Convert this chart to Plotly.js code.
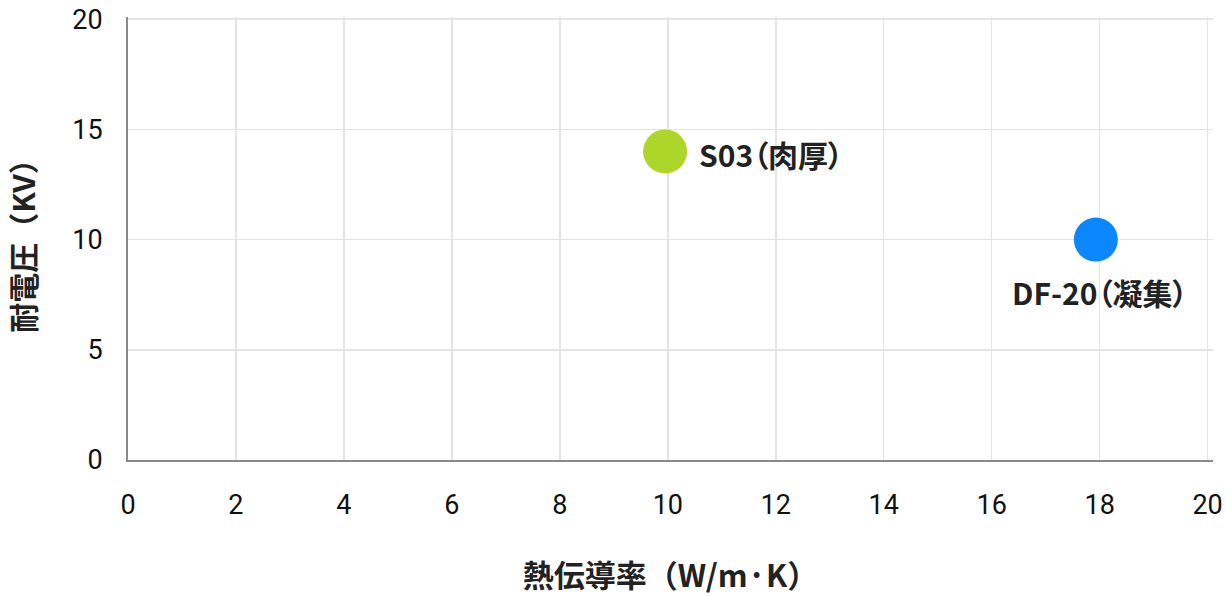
<!DOCTYPE html>
<html>
<head>
<meta charset="utf-8">
<script src="https://cdn.plot.ly/plotly-3.0.1.min.js"></script>
<style>
html,body{margin:0;padding:0;background:#fff;}
#chart{width:1226px;height:596px;}
.annotation-text{font-feature-settings:"palt" 1;}
</style>
</head>
<body>
<div id="chart"></div>
<script>
const names = ["S03（肉厚）", "DF-20（凝集）"];
const conductivity = [9.95, 17.93];
const voltage = [14, 10];
const colors = ["#acd62a", "#0a88fb"];
const xTicks = [0, 2, 4, 6, 8, 10, 12, 14, 16, 18, 20];
const yTicks = [0, 5, 10, 15, 20];
const xTitle = "熱伝導率（W/m·K）";
const yTitle = "耐電圧（KV）";

const FONT = '"Noto Sans CJK JP", "Noto Sans", sans-serif';
const TICKFONT = 'Roboto, "Noto Sans", sans-serif';

const trace = {
  type: 'scatter',
  mode: 'markers',
  x: conductivity,
  y: voltage,
  marker: {size: 44, color: colors, line: {width: 0}},
  hoverinfo: 'none',
  showlegend: false
};

const labelPos = [
  {xanchor: 'left', yanchor: 'middle', xshift: 32, yshift: -3},
  {xanchor: 'center', yanchor: 'middle', xshift: 4, yshift: -52}
];

const annotations = names.map((n, i) => Object.assign({
  x: conductivity[i], y: voltage[i], xref: 'x', yref: 'y',
  text: '<b>' + n + '</b>', showarrow: false,
  font: {family: FONT, size: 30, color: '#222'}
}, labelPos[i]));

const layout = {
  width: 1226, height: 596,
  margin: {l: 128, r: 13, t: 17, b: 136},
  paper_bgcolor: '#fff', plot_bgcolor: '#fff',
  font: {family: FONT, color: '#111'},
  xaxis: {
    range: [0, 20.1], tickvals: xTicks, ticktext: xTicks.map(String),
    showgrid: true, gridcolor: '#e4e4e4', gridwidth: 1.5,
    zeroline: false, showline: true, linecolor: '#8a8a8a', linewidth: 2,
    ticks: '', ticklabelstandoff: 20, ticklabeloverflow: 'allow',
    tickfont: {family: TICKFONT, size: 27, color: '#111'},
    title: {text: '<b>' + xTitle + '</b>', font: {family: FONT, size: 31, color: '#222'}, standoff: 48},
    fixedrange: true
  },
  yaxis: {
    range: [0, 20.1], tickvals: yTicks, ticktext: yTicks.map(String),
    showgrid: true, gridcolor: '#e4e4e4', gridwidth: 1.5,
    zeroline: false, showline: true, linecolor: '#8a8a8a', linewidth: 2,
    ticks: '', ticklabelstandoff: 18, ticklabeloverflow: 'allow',
    tickfont: {family: TICKFONT, size: 27, color: '#111'},
    title: {text: '<b>' + yTitle + '</b>', font: {family: FONT, size: 30, color: '#222'}, standoff: 31},
    fixedrange: true
  },
  annotations: annotations
};

Plotly.newPlot('chart', [trace], layout, {displayModeBar: false, staticPlot: true});
</script>
</body>
</html>
